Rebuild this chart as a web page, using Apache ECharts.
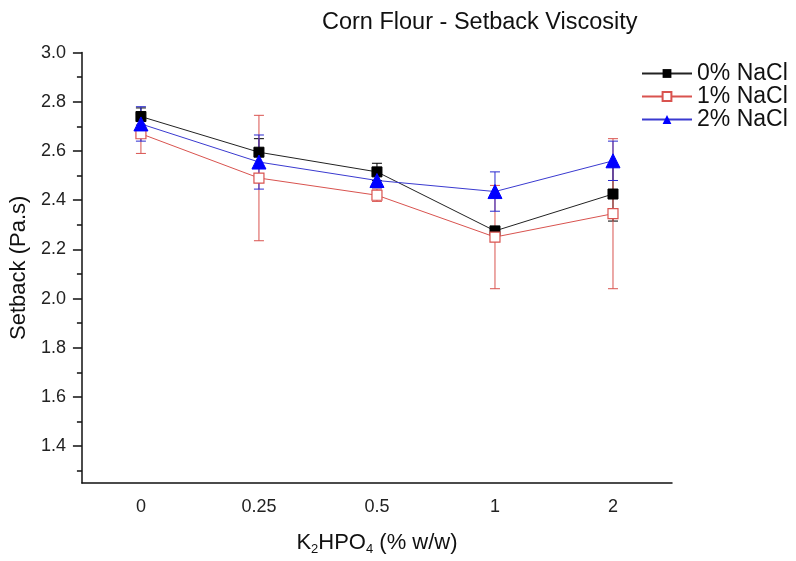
<!DOCTYPE html>
<html>
<head>
<meta charset="utf-8">
<script src="https://cdn.jsdelivr.net/npm/echarts@6/dist/echarts.min.js"></script>
<style>html,body{margin:0;padding:0;background:#fff;}#c{width:796px;height:561px;}</style>
</head>
<body>
<div id="c"></div>
<script>
const categories = ['0', '0.25', '0.5', '1', '2'];
const nacl0 = [2.74, 2.595, 2.515, 2.275, 2.425];
const nacl0Err = [0.035, 0.055, 0.035, 0.015, 0.11];
const nacl1 = [2.67, 2.49, 2.42, 2.25, 2.345];
const nacl1Err = [0.08, 0.255, 0.025, 0.21, 0.305];
const nacl2 = [2.71, 2.555, 2.48, 2.435, 2.56];
const nacl2Err = [0.07, 0.11, 0.03, 0.08, 0.08];
const yMajorTicks = [1.4, 1.6, 1.8, 2.0, 2.2, 2.4, 2.6, 2.8, 3.0];
const yMinorTicks = [1.3, 1.5, 1.7, 1.9, 2.1, 2.3, 2.5, 2.7, 2.9];

const FONT = '"Liberation Sans", Arial, sans-serif';
const BLACK = '#000000', RED = '#d9534f';

function errRender(color) {
  return function (params, api) {
    const i = api.value(0), v = api.value(1), e = api.value(2);
    const t = api.coord([i, v + e]);
    const b = api.coord([i, v - e]);
    const w = 5;
    const st = { stroke: color, lineWidth: 1 };
    return {
      type: 'group',
      children: [
        { type: 'line', shape: { x1: t[0], y1: t[1], x2: b[0], y2: b[1] }, style: st },
        { type: 'line', shape: { x1: t[0] - w, y1: t[1], x2: t[0] + w, y2: t[1] }, style: st },
        { type: 'line', shape: { x1: b[0] - w, y1: b[1], x2: b[0] + w, y2: b[1] }, style: st }
      ]
    };
  };
}
function errData(vals, errs) { return categories.map((c, i) => [i, vals[i], errs[i]]); }

const chart = echarts.init(document.getElementById('c'), null, { renderer: 'canvas' });
chart.setOption({
  animation: false,
  backgroundColor: '#fff',
  textStyle: { fontFamily: FONT },
  title: {
    text: 'Corn Flour - Setback Viscosity',
    left: 317, top: 6,
    textStyle: { fontFamily: FONT, fontSize: 23.5, fontWeight: 'normal', color: '#111' }
  },
  legend: {
    orient: 'vertical', left: 641, top: 62, padding: 0,
    itemWidth: 50, itemHeight: 11, itemGap: 0,
    textStyle: { fontFamily: FONT, fontSize: 23, lineHeight: 23, color: '#111' },
    data: ['0% NaCl', '1% NaCl', '2% NaCl']
  },
  grid: { left: 78, right: 124, top: 52.6, bottom: 73.5, containLabel: false },
  xAxis: [
    {
      type: 'category', data: categories, boundaryGap: true,
      axisLine: { lineStyle: { color: '#111', width: 1.5 } },
      axisTick: { alignWithLabel: false, length: 5, lineStyle: { color: '#111', width: 1.5 } },
      axisLabel: { fontFamily: FONT, fontSize: 18, color: '#222', margin: 15 },
      name: 'K{sub|2}HPO{sub|4} (% w/w)',
      nameLocation: 'middle', nameGap: 46,
      nameTextStyle: {
        fontFamily: FONT, fontSize: 22, color: '#111',
        rich: { sub: { fontFamily: FONT, fontSize: 13, color: '#111', verticalAlign: 'bottom', padding: [14, 0, 0, 0] } }
      }
    },
    {
      type: 'category', data: categories, boundaryGap: true, position: 'bottom',
      axisLine: { show: false },
      axisTick: { alignWithLabel: true, length: 9, lineStyle: { color: '#111', width: 1.5 } },
      axisLabel: { show: false }
    }
  ],
  yAxis: [
    {
      type: 'value', min: 1.25, max: 3.0, position: 'left',
      axisLine: { show: true, lineStyle: { color: '#111', width: 1.5 } },
      axisTick: { show: true, customValues: yMajorTicks, length: 9, lineStyle: { color: '#111', width: 1.5 } },
      axisLabel: { customValues: yMajorTicks, formatter: v => v.toFixed(1), fontFamily: FONT, fontSize: 18, color: '#222', margin: 16 },
      splitLine: { show: false },
      name: 'Setback (Pa.s)', nameLocation: 'middle', nameGap: 40,
      nameTextStyle: { fontFamily: FONT, fontSize: 22, color: '#111' }
    },
    {
      type: 'value', min: 1.25, max: 3.0, position: 'left', offset: 0,
      axisLine: { show: false },
      axisTick: { show: true, customValues: yMinorTicks, length: 5, lineStyle: { color: '#111', width: 1.5 } },
      axisLabel: { show: false },
      splitLine: { show: false }
    }
  ],
  series: [
    {
      type: 'custom', name: 'err0', renderItem: errRender(BLACK), data: errData(nacl0, nacl0Err),
      encode: { x: 0, y: 1 }, z: 3, silent: true
    },
    {
      type: 'custom', name: 'err1', renderItem: errRender(RED), data: errData(nacl1, nacl1Err),
      encode: { x: 0, y: 1 }, z: 3, silent: true
    },
    {
      type: 'custom', name: 'err2', renderItem: errRender('#2a2ad0'), data: errData(nacl2, nacl2Err),
      encode: { x: 0, y: 1 }, z: 3, silent: true
    },
    {
      type: 'line', name: '0% NaCl', data: nacl0,
      symbol: 'rect', symbolSize: 10,
      itemStyle: { color: BLACK, borderColor: BLACK },
      lineStyle: { color: '#222', width: 1 }, z: 4
    },
    {
      type: 'line', name: '1% NaCl', data: nacl1,
      symbol: 'rect', symbolSize: 10,
      itemStyle: { color: '#fff', borderColor: RED, borderWidth: 1.2 },
      lineStyle: { color: RED, width: 1 }, z: 5
    },
    {
      type: 'line', name: '2% NaCl', data: nacl2,
      symbol: 'triangle', symbolSize: 14,
      itemStyle: { color: '#0000ff', borderColor: '#0000ff' },
      lineStyle: { color: '#3a3ad0', width: 1 }, z: 6
    }
  ]
});
</script>
</body>
</html>
